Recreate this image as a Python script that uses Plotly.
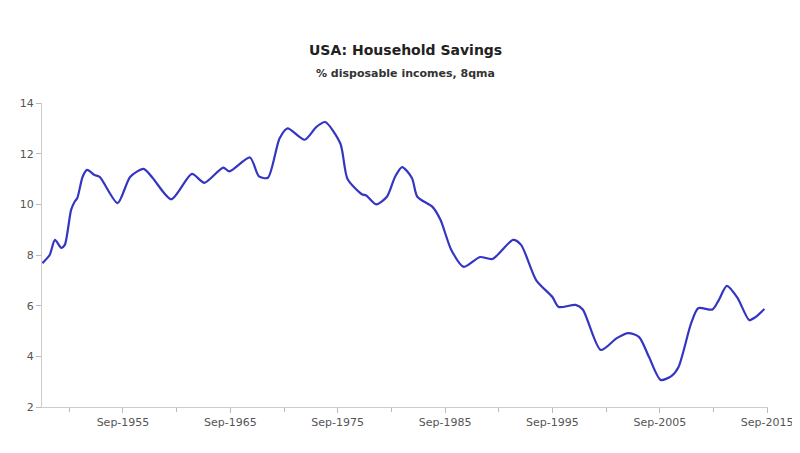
import plotly.graph_objects as go

dates = ["1948-03-01", "1948-11-01", "1949-05-01", "1949-12-01", "1950-04-01", "1950-11-01",
         "1951-03-01", "1951-06-01", "1951-12-01", "1952-05-01", "1953-01-01", "1953-07-01",
         "1955-03-01", "1956-05-01", "1957-08-01", "1958-06-01",
         "1960-03-01", "1962-02-01", "1963-04-01", "1965-01-01", "1965-08-01", "1967-07-01",
         "1968-05-01", "1969-03-01", "1970-04-01", "1971-01-01", "1972-08-01", "1973-09-01",
         "1974-07-01", "1975-12-01", "1976-08-01", "1977-12-01", "1978-05-01", "1979-04-01",
         "1980-04-01", "1981-01-01", "1981-09-01", "1982-08-01", "1983-02-01", "1984-07-01",
         "1985-04-01", "1986-04-01", "1987-06-01", "1988-12-01", "1990-02-01", "1992-01-01",
         "1992-10-01", "1994-03-01", "1995-09-01", "1996-04-01", "1997-11-01", "1998-07-01",
         "2000-03-01", "2001-09-01", "2002-10-01", "2003-10-01", "2004-09-01", "2005-10-01",
         "2006-10-01", "2007-06-01", "2008-08-01", "2009-04-01", "2010-08-01", "2011-03-01",
         "2011-12-01", "2012-12-01", "2014-01-01", "2014-08-01", "2015-06-01"]
savings = [7.68, 8.0, 8.6, 8.28, 8.4, 9.78,
           10.1, 10.25, 11.1, 11.36, 11.16, 11.08,
           10.05, 11.08, 11.4, 11.05,
           10.2, 11.2, 10.85, 11.45, 11.3, 11.85,
           11.1, 11.05, 12.6, 13.0, 12.55, 13.05,
           13.25, 12.4, 11.0, 10.4, 10.35, 10.0,
           10.3, 11.08, 11.47, 11.04, 10.3, 9.9,
           9.38, 8.2, 7.53, 7.92, 7.84, 8.6,
           8.4, 7.0, 6.34, 5.95, 6.03, 5.85,
           4.25, 4.72, 4.92, 4.76, 3.97, 3.07,
           3.22, 3.58, 5.3, 5.9, 5.85, 6.22,
           6.78, 6.3, 5.43, 5.55, 5.87]

tick_dates = ["1955-09-01", "1965-09-01", "1975-09-01", "1985-09-01",
              "1995-09-01", "2005-09-01", "2015-09-01"]
tick_labels = ["Sep-1955", "Sep-1965", "Sep-1975", "Sep-1985",
               "Sep-1995", "Sep-2005", "Sep-2015"]
minor_dates = ["1950-09-01", "1960-09-01", "1970-09-01", "1980-09-01",
               "1990-09-01", "2000-09-01", "2010-09-01"]
y_ticks = [2, 4, 6, 8, 10, 12, 14]

title_text = "USA: Household Savings"
subtitle_text = "% disposable incomes, 8qma"

FONT = "DejaVu Sans, Verdana, sans-serif"

fig = go.Figure()
fig.add_trace(go.Scatter(
    x=dates, y=savings, mode="lines",
    line=dict(color="#3535c4", width=2.2, shape="spline", smoothing=0.7),
    showlegend=False,
))

# page body has an 8px margin, so margins are shifted to compensate
fig.update_layout(
    width=800, height=453,
    paper_bgcolor="white", plot_bgcolor="white",
    margin=dict(l=34, r=40, t=95, b=54, autoexpand=False),
    font=dict(family=FONT, size=11, color="#444"),
    annotations=[
        dict(text="<b>" + title_text + "</b>", xref="paper", yref="paper",
             x=0.5, y=(399 - 42) / 304, xanchor="center", yanchor="middle",
             showarrow=False, font=dict(family=FONT, size=14, color="#222")),
        dict(text="<b>" + subtitle_text + "</b>", xref="paper", yref="paper",
             x=0.5, y=(399 - 65) / 304, xanchor="center", yanchor="middle",
             showarrow=False, font=dict(family=FONT, size=11, color="#333")),
    ],
)
fig.update_xaxes(
    type="date", range=["1948-02-15", "2015-10-01"],
    tickmode="array", tickvals=tick_dates, ticktext=tick_labels,
    showgrid=False, zeroline=False,
    showline=True, linecolor="#cccccc", linewidth=1,
    ticks="outside", ticklen=5, tickcolor="#bbbbbb",
    minor=dict(tickmode="array", tickvals=minor_dates,
               ticks="outside", ticklen=4, tickcolor="#bbbbbb"),
    tickfont=dict(family=FONT, size=11, color="#555"),
)
fig.update_yaxes(
    range=[2, 14], tickvals=y_ticks,
    showgrid=False, zeroline=False,
    showline=True, linecolor="#cccccc", linewidth=1,
    ticks="outside", ticklen=5, tickcolor="#bbbbbb",
    tickfont=dict(family=FONT, size=11, color="#555"),
)

fig.write_html("out.html")
